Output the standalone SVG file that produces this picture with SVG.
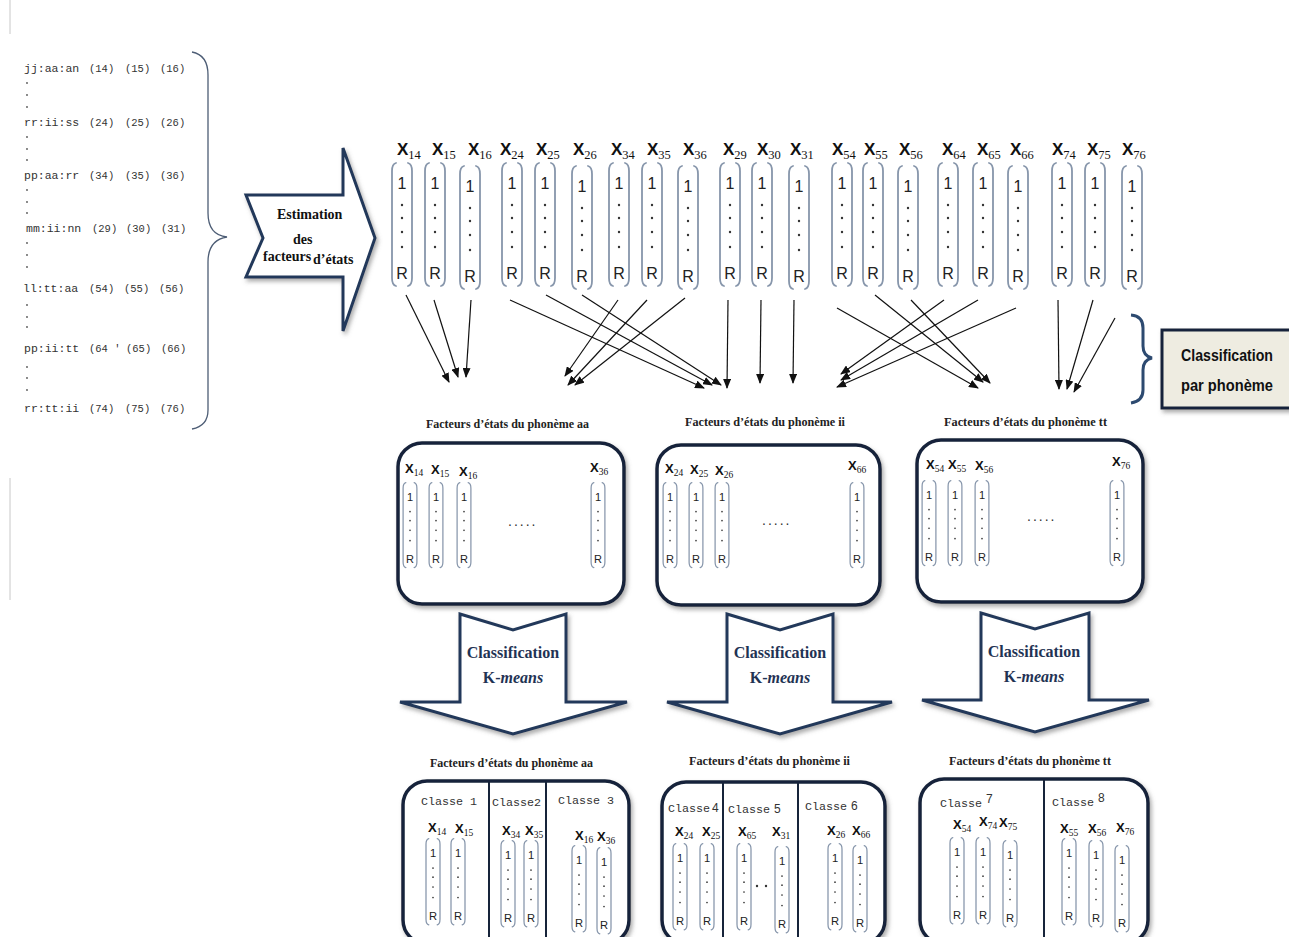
<svg xmlns="http://www.w3.org/2000/svg" xmlns:xlink="http://www.w3.org/1999/xlink" width="1289" height="937" viewBox="0 0 1289 937">
<style>
.mono{font-family:"Liberation Mono","DejaVu Sans Mono",monospace;fill:#333}
.lab{font-size:11.5px}
.par{font-size:10.5px}
.br{fill:none;stroke:#8796ab;stroke-width:1.8;stroke-linecap:round}
.one{font-family:"Liberation Sans",Arial,sans-serif;font-size:16px;fill:#222;text-anchor:middle}
.dot{fill:#333}
.xl{font-family:"Liberation Sans",Arial,sans-serif;font-weight:bold;fill:#111}
.xs{font-family:"Liberation Serif","Times New Roman",serif;font-weight:normal}
.big{font-size:17px}
.big .xs{font-size:12.5px}
.sm{font-size:13px}
.sm .xs{font-size:9.5px}
.ttl{font-family:"Liberation Serif","Times New Roman",serif;font-weight:bold;font-size:13px;fill:#222}
.box{fill:#fff;stroke:#17243a;stroke-width:3.5}
.harrow{fill:#fff;stroke:#22395a;stroke-width:3;stroke-linejoin:miter}
.km{font-family:"Liberation Serif","Times New Roman",serif;font-weight:bold;font-size:16px;fill:#1f3354;text-anchor:middle}
.cls{font-family:"Liberation Mono","DejaVu Sans Mono",monospace;font-size:11.7px;fill:#333}
.dig{font-family:"Liberation Sans",Arial,sans-serif;font-size:12px;fill:#333}
.con line{stroke:#111;stroke-width:1.2;marker-end:url(#ah)}
</style>
<defs>
<marker id="ah" markerWidth="10" markerHeight="8" refX="9" refY="4" orient="auto" markerUnits="userSpaceOnUse"><path d="M0,0 L10,4 L0,8 Z" fill="#111"/></marker>
<filter id="sh" x="-10%" y="-10%" width="130%" height="130%"><feDropShadow dx="2" dy="3" stdDeviation="2" flood-color="#6a6a6a" flood-opacity="0.55"/></filter>
<g id="vec">
<path class="br" d="M-6,1 Q-10,2 -10,9 L-10,116 Q-10,123 -6,124"/>
<path class="br" d="M6,1 Q10,2 10,9 L10,116 Q10,123 6,124"/>
<text class="one" x="0" y="27">1</text>
<circle class="dot" cx="0" cy="43" r="1.2"/><circle class="dot" cx="0" cy="56" r="1.2"/><circle class="dot" cx="0" cy="70" r="1.2"/><circle class="dot" cx="0" cy="85" r="1.2"/>
<text class="one" x="0" y="117">R</text>
</g>
</defs>
<rect width="1289" height="937" fill="#fff"/>
<g id="edge" stroke="#c8c8c8" stroke-width="1"><line x1="10" y1="0" x2="10" y2="34"/><line x1="10" y1="478" x2="10" y2="600"/></g>

<g id="sequence-list">
<g class="mono">
<text class="lab" x="24" y="72">jj:aa:an</text><text class="par" x="89" y="72">(14)</text><text class="par" x="125" y="72">(15)</text><text class="par" x="160" y="72">(16)</text>
<text class="lab" x="24" y="126">rr:ii:ss</text><text class="par" x="89" y="126">(24)</text><text class="par" x="125" y="126">(25)</text><text class="par" x="160" y="126">(26)</text>
<text class="lab" x="24" y="179">pp:aa:rr</text><text class="par" x="89" y="179">(34)</text><text class="par" x="125" y="179">(35)</text><text class="par" x="160" y="179">(36)</text>
<text class="lab" x="26" y="232">mm:ii:nn</text><text class="par" x="92" y="232">(29)</text><text class="par" x="126" y="232">(30)</text><text class="par" x="161" y="232">(31)</text>
<text class="lab" x="23" y="292">ll:tt:aa</text><text class="par" x="89" y="292">(54)</text><text class="par" x="124" y="292">(55)</text><text class="par" x="159" y="292">(56)</text>
<text class="lab" x="24" y="352">pp:ii:tt</text><text class="par" x="89" y="352">(64 '</text><text class="par" x="126" y="352">(65)</text><text class="par" x="161" y="352">(66)</text>
<text class="lab" x="24" y="412">rr:tt:ii</text><text class="par" x="89" y="412">(74)</text><text class="par" x="125" y="412">(75)</text><text class="par" x="160" y="412">(76)</text>
</g>
<g fill="#555">
<circle cx="27" cy="83" r="0.9"/><circle cx="27" cy="95" r="0.9"/><circle cx="27" cy="107" r="0.9"/>
<circle cx="27" cy="137" r="0.9"/><circle cx="27" cy="149" r="0.9"/><circle cx="27" cy="160" r="0.9"/>
<circle cx="27" cy="190" r="0.9"/><circle cx="27" cy="202" r="0.9"/><circle cx="27" cy="213" r="0.9"/>
<circle cx="27" cy="243" r="0.9"/><circle cx="27" cy="255" r="0.9"/><circle cx="27" cy="267" r="0.9"/>
<circle cx="27" cy="305" r="0.9"/><circle cx="27" cy="317" r="0.9"/><circle cx="27" cy="327" r="0.9"/>
<circle cx="27" cy="367" r="0.9"/><circle cx="27" cy="378" r="0.9"/><circle cx="27" cy="390" r="0.9"/>
</g>
<path d="M192,52 Q208,55 208,75 L208,213 Q208,235 227,237 Q208,240 208,262 L208,410 Q208,426 192,429" fill="none" stroke="#4d5d75" stroke-width="1.3"/>
</g>

<g id="estimation-arrow">
<path class="harrow" filter="url(#sh)" d="M246,195 L343,195 L343,148 L375,238 L343,331 L343,277 L246,277 L263,238 Z" stroke-width="3.5"/>
<g font-family="Liberation Serif,Times New Roman,serif" font-weight="bold" font-size="14" fill="#111">
<text x="277" y="219">Estimation</text>
<text x="293" y="244">des</text>
<text x="263" y="261">facteurs</text>
<text x="313" y="264">d’états</text>
</g>
</g>

<g id="top-vectors">
<use href="#vec" transform="translate(402,162)"/>
<use href="#vec" transform="translate(435,162)"/>
<use href="#vec" transform="translate(470,165)"/>
<use href="#vec" transform="translate(512,162)"/>
<use href="#vec" transform="translate(545,162)"/>
<use href="#vec" transform="translate(582,165)"/>
<use href="#vec" transform="translate(619,162)"/>
<use href="#vec" transform="translate(652,162)"/>
<use href="#vec" transform="translate(688,165)"/>
<use href="#vec" transform="translate(730,162)"/>
<use href="#vec" transform="translate(762,162)"/>
<use href="#vec" transform="translate(799,165)"/>
<use href="#vec" transform="translate(842,162)"/>
<use href="#vec" transform="translate(873,162)"/>
<use href="#vec" transform="translate(908,165)"/>
<use href="#vec" transform="translate(948,162)"/>
<use href="#vec" transform="translate(983,162)"/>
<use href="#vec" transform="translate(1018,165)"/>
<use href="#vec" transform="translate(1062,162)"/>
<use href="#vec" transform="translate(1095,162)"/>
<use href="#vec" transform="translate(1132,165)"/>
<g class="xl big">
<text x="397" y="155">X<tspan class="xs" dy="4">14</tspan></text>
<text x="432" y="155">X<tspan class="xs" dy="4">15</tspan></text>
<text x="468" y="155">X<tspan class="xs" dy="4">16</tspan></text>
<text x="500" y="155">X<tspan class="xs" dy="4">24</tspan></text>
<text x="536" y="155">X<tspan class="xs" dy="4">25</tspan></text>
<text x="573" y="155">X<tspan class="xs" dy="4">26</tspan></text>
<text x="611" y="155">X<tspan class="xs" dy="4">34</tspan></text>
<text x="647" y="155">X<tspan class="xs" dy="4">35</tspan></text>
<text x="683" y="155">X<tspan class="xs" dy="4">36</tspan></text>
<text x="723" y="155">X<tspan class="xs" dy="4">29</tspan></text>
<text x="757" y="155">X<tspan class="xs" dy="4">30</tspan></text>
<text x="790" y="155">X<tspan class="xs" dy="4">31</tspan></text>
<text x="832" y="155">X<tspan class="xs" dy="4">54</tspan></text>
<text x="864" y="155">X<tspan class="xs" dy="4">55</tspan></text>
<text x="899" y="155">X<tspan class="xs" dy="4">56</tspan></text>
<text x="942" y="155">X<tspan class="xs" dy="4">64</tspan></text>
<text x="977" y="155">X<tspan class="xs" dy="4">65</tspan></text>
<text x="1010" y="155">X<tspan class="xs" dy="4">66</tspan></text>
<text x="1052" y="155">X<tspan class="xs" dy="4">74</tspan></text>
<text x="1087" y="155">X<tspan class="xs" dy="4">75</tspan></text>
<text x="1122" y="155">X<tspan class="xs" dy="4">76</tspan></text>
</g>
</g>

<g id="connectors" class="con">
<line x1="406" y1="295" x2="449" y2="382"/>
<line x1="434" y1="300" x2="458" y2="377"/>
<line x1="471" y1="300" x2="466" y2="377"/>
<line x1="510" y1="300" x2="704" y2="388"/>
<line x1="546" y1="295" x2="712" y2="385"/>
<line x1="582" y1="295" x2="721" y2="385"/>
<line x1="618" y1="300" x2="565" y2="376"/>
<line x1="647" y1="300" x2="568" y2="385"/>
<line x1="685" y1="298" x2="575" y2="385"/>
<line x1="728" y1="300" x2="727" y2="388"/>
<line x1="761" y1="300" x2="760" y2="383"/>
<line x1="794" y1="300" x2="793" y2="383"/>
<line x1="837" y1="308" x2="978" y2="388"/>
<line x1="875" y1="295" x2="983" y2="382"/>
<line x1="911" y1="300" x2="990" y2="383"/>
<line x1="944" y1="300" x2="841" y2="374"/>
<line x1="978" y1="300" x2="841" y2="380"/>
<line x1="1016" y1="308" x2="837" y2="387"/>
<line x1="1058" y1="300" x2="1059" y2="389"/>
<line x1="1093" y1="300" x2="1067" y2="389"/>
<line x1="1115" y1="318" x2="1074" y2="392"/>
</g>

<g id="classification-phoneme">
<path d="M1131,315 Q1143,316 1143,328 L1143,346 Q1143,356 1152,358 Q1143,360 1143,370 L1143,390 Q1143,401 1131,403" fill="none" stroke="#2d4a70" stroke-width="3"/>
<rect x="1162" y="330" width="132" height="78" fill="#eeece1" stroke="#17243a" stroke-width="3" filter="url(#sh)"/>
<g font-family="Liberation Sans,Arial,sans-serif" font-weight="bold" font-size="17" fill="#111">
<text x="1181" y="361" textLength="92" lengthAdjust="spacingAndGlyphs">Classification</text>
<text x="1181" y="391" textLength="92" lengthAdjust="spacingAndGlyphs">par phonème</text>
</g>
</g>

<g id="phoneme-aa">
<text class="ttl" x="426" y="428" textLength="163" lengthAdjust="spacingAndGlyphs">Facteurs d’états du phonème aa</text>
<rect class="box" x="398" y="443" width="226" height="161" rx="24" filter="url(#sh)"/>
<g class="xl sm">
<text x="405" y="473">X<tspan class="xs" dy="3">14</tspan></text>
<text x="431" y="474">X<tspan class="xs" dy="3">15</tspan></text>
<text x="459" y="476">X<tspan class="xs" dy="3">16</tspan></text>
<text x="590" y="472">X<tspan class="xs" dy="3">36</tspan></text>
</g>
<use href="#vec" transform="translate(410,482) scale(0.69)"/>
<use href="#vec" transform="translate(436,482) scale(0.69)"/>
<use href="#vec" transform="translate(464,482) scale(0.69)"/>
<use href="#vec" transform="translate(598,482) scale(0.69)"/>
<text x="508" y="526" font-family="Liberation Sans,Arial,sans-serif" font-size="14" fill="#333" letter-spacing="2">.....</text>
</g>

<g id="phoneme-ii">
<text class="ttl" x="685" y="426" textLength="160" lengthAdjust="spacingAndGlyphs">Facteurs d’états du phonème  ii</text>
<rect class="box" x="657" y="445" width="223" height="160" rx="24" filter="url(#sh)"/>
<g class="xl sm">
<text x="665" y="473">X<tspan class="xs" dy="3">24</tspan></text>
<text x="690" y="474">X<tspan class="xs" dy="3">25</tspan></text>
<text x="715" y="475">X<tspan class="xs" dy="3">26</tspan></text>
<text x="848" y="470">X<tspan class="xs" dy="3">66</tspan></text>
</g>
<use href="#vec" transform="translate(670,482) scale(0.69)"/>
<use href="#vec" transform="translate(696,482) scale(0.69)"/>
<use href="#vec" transform="translate(722,482) scale(0.69)"/>
<use href="#vec" transform="translate(857,482) scale(0.69)"/>
<text x="762" y="525" font-family="Liberation Sans,Arial,sans-serif" font-size="14" fill="#333" letter-spacing="2">.....</text>
</g>

<g id="phoneme-tt">
<text class="ttl" x="944" y="426" textLength="163" lengthAdjust="spacingAndGlyphs">Facteurs d’états du phonème  tt</text>
<rect class="box" x="917" y="440" width="226" height="162" rx="24" filter="url(#sh)"/>
<g class="xl sm">
<text x="926" y="469">X<tspan class="xs" dy="3">54</tspan></text>
<text x="948" y="469">X<tspan class="xs" dy="3">55</tspan></text>
<text x="975" y="470">X<tspan class="xs" dy="3">56</tspan></text>
<text x="1112" y="466">X<tspan class="xs" dy="3">76</tspan></text>
</g>
<use href="#vec" transform="translate(929,480) scale(0.69)"/>
<use href="#vec" transform="translate(955,480) scale(0.69)"/>
<use href="#vec" transform="translate(982,480) scale(0.69)"/>
<use href="#vec" transform="translate(1117,480) scale(0.69)"/>
<text x="1027" y="521" font-family="Liberation Sans,Arial,sans-serif" font-size="14" fill="#333" letter-spacing="2">.....</text>
</g>

<g id="kmeans-aa">
<path class="harrow" filter="url(#sh)" d="M460,614 L513,630 L566,614 L566,702 L627,702 L513,734 L400,702 L460,702 Z"/>
<text class="km" x="513" y="658">Classification</text>
<text class="km" x="513" y="683">K-<tspan font-style="italic">means</tspan></text>
</g>
<g id="kmeans-ii">
<path class="harrow" filter="url(#sh)" d="M727,614 L780,630 L833,614 L833,702 L892,702 L780,734 L667,702 L727,702 Z"/>
<text class="km" x="780" y="658">Classification</text>
<text class="km" x="780" y="683">K-<tspan font-style="italic">means</tspan></text>
</g>
<g id="kmeans-tt">
<path class="harrow" filter="url(#sh)" d="M981,613 L1035,629 L1089,613 L1089,700 L1149,700 L1035,732 L922,700 L981,700 Z"/>
<text class="km" x="1034" y="657">Classification</text>
<text class="km" x="1034" y="682">K-<tspan font-style="italic">means</tspan></text>
</g>

<g id="clusters-aa">
<text class="ttl" x="430" y="767" textLength="163" lengthAdjust="spacingAndGlyphs">Facteurs d’états du phonème aa</text>
<rect class="box" x="403" y="781" width="226" height="163" rx="24" filter="url(#sh)"/>
<line x1="489" y1="782" x2="489" y2="944" stroke="#17243a" stroke-width="2"/>
<line x1="546" y1="782" x2="546" y2="944" stroke="#17243a" stroke-width="2"/>
<text class="cls" x="421" y="805">Classe 1</text>
<text class="cls" x="492" y="806">Classe2</text>
<text class="cls" x="558" y="804">Classe 3</text>
<g class="xl sm">
<text x="428" y="832">X<tspan class="xs" dy="3">14</tspan></text>
<text x="455" y="833">X<tspan class="xs" dy="3">15</tspan></text>
<text x="502" y="835">X<tspan class="xs" dy="3">34</tspan></text>
<text x="525" y="835">X<tspan class="xs" dy="3">35</tspan></text>
<text x="575" y="840">X<tspan class="xs" dy="3">16</tspan></text>
<text x="597" y="841">X<tspan class="xs" dy="3">36</tspan></text>
</g>
<use href="#vec" transform="translate(433,838) scale(0.7)"/>
<use href="#vec" transform="translate(458,838) scale(0.7)"/>
<use href="#vec" transform="translate(508,840) scale(0.7)"/>
<use href="#vec" transform="translate(531,840) scale(0.7)"/>
<use href="#vec" transform="translate(579,845) scale(0.7)"/>
<use href="#vec" transform="translate(604,847) scale(0.7)"/>
</g>

<g id="clusters-ii">
<text class="ttl" x="689" y="765" textLength="161" lengthAdjust="spacingAndGlyphs">Facteurs d’états du phonème  ii</text>
<rect class="box" x="662" y="782" width="223" height="162" rx="24" filter="url(#sh)"/>
<line x1="723" y1="783" x2="723" y2="944" stroke="#17243a" stroke-width="2"/>
<line x1="798" y1="783" x2="798" y2="944" stroke="#17243a" stroke-width="2"/>
<text class="cls" x="668" y="812">Classe<tspan class="dig" dx="2">4</tspan></text>
<text class="cls" x="728" y="813">Classe<tspan class="dig" dx="4">5</tspan></text>
<text class="cls" x="805" y="810">Classe<tspan class="dig" dx="4">6</tspan></text>
<g class="xl sm">
<text x="675" y="836">X<tspan class="xs" dy="3">24</tspan></text>
<text x="702" y="836">X<tspan class="xs" dy="3">25</tspan></text>
<text x="738" y="836">X<tspan class="xs" dy="3">65</tspan></text>
<text x="772" y="836">X<tspan class="xs" dy="3">31</tspan></text>
<text x="827" y="835">X<tspan class="xs" dy="3">26</tspan></text>
<text x="852" y="835">X<tspan class="xs" dy="3">66</tspan></text>
</g>
<use href="#vec" transform="translate(680,843) scale(0.7)"/>
<use href="#vec" transform="translate(707,843) scale(0.7)"/>
<use href="#vec" transform="translate(744,843) scale(0.7)"/>
<use href="#vec" transform="translate(782,846) scale(0.7)"/>
<use href="#vec" transform="translate(835,843) scale(0.7)"/>
<use href="#vec" transform="translate(860,845) scale(0.7)"/>
<circle cx="757" cy="886" r="1.2" fill="#333"/><circle cx="766" cy="886" r="1.2" fill="#333"/>
</g>

<g id="clusters-tt">
<text class="ttl" x="949" y="765" textLength="162" lengthAdjust="spacingAndGlyphs">Facteurs d’états du phonème  tt</text>
<rect class="box" x="920" y="779" width="228" height="165" rx="24" filter="url(#sh)"/>
<line x1="1044" y1="780" x2="1044" y2="944" stroke="#17243a" stroke-width="2"/>
<text class="cls" x="940" y="807">Classe<tspan class="dig" dx="4" dy="-4">7</tspan></text>
<text class="cls" x="1052" y="806">Classe<tspan class="dig" dx="4" dy="-4">8</tspan></text>
<g class="xl sm">
<text x="953" y="829">X<tspan class="xs" dy="3">54</tspan></text>
<text x="979" y="826">X<tspan class="xs" dy="3">74</tspan></text>
<text x="999" y="827">X<tspan class="xs" dy="3">75</tspan></text>
<text x="1060" y="833">X<tspan class="xs" dy="3">55</tspan></text>
<text x="1088" y="833">X<tspan class="xs" dy="3">56</tspan></text>
<text x="1116" y="832">X<tspan class="xs" dy="3">76</tspan></text>
</g>
<use href="#vec" transform="translate(957,837) scale(0.7)"/>
<use href="#vec" transform="translate(983,837) scale(0.7)"/>
<use href="#vec" transform="translate(1010,840) scale(0.7)"/>
<use href="#vec" transform="translate(1069,838) scale(0.7)"/>
<use href="#vec" transform="translate(1096,840) scale(0.7)"/>
<use href="#vec" transform="translate(1122,845) scale(0.7)"/>
</g>
</svg>
